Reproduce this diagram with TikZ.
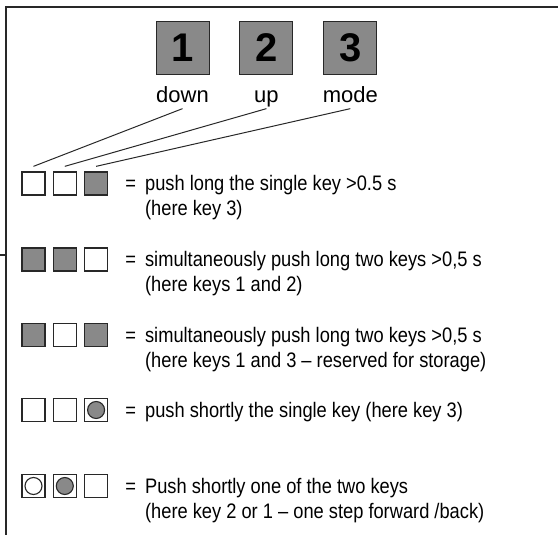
\documentclass[tikz,border=0pt]{standalone}
\usepackage{fontspec}
\setmainfont{Liberation Sans}
\newfontfamily\narrowfont{Liberation Sans}[FakeStretch=0.87]
\usepackage{xcolor}
\usetikzlibrary{positioning, calc}
\definecolor{keygray}{RGB}{137,137,137}
\definecolor{edgegray}{RGB}{40,40,40}
\tikzset{
    bigkey/.style={
        rectangle,
        draw=edgegray,
        line width=0.9pt,
        fill=keygray,
        minimum size=53pt,
        inner sep=0pt,
        font=\fontsize{40}{40}\selectfont\bfseries,
    },
    keyoff/.style={
        rectangle,
        draw=edgegray,
        line width=1.3pt,
        fill=white,
        minimum size=23pt,
        inner sep=0pt,
    },
    keyon/.style={
        keyoff,
        fill=keygray,
    },
    shortpush/.style={
        circle,
        draw=edgegray,
        line width=1.1pt,
        minimum size=17pt,
        inner sep=0pt,
    },
    keylabel/.style={
        inner sep=0pt,
        text height=16pt,
        text depth=5pt,
        font=\fontsize{22}{22}\selectfont,
    },
    desc/.style={
        inner sep=0pt,
        font=\narrowfont\fontsize{21}{25}\selectfont,
    },
}

\begin{document}
\begin{tikzpicture}[x=1pt,y=-1pt]
      \useasboundingbox (0,0) rectangle (558,535);
      \draw [edgegray, line width=1.3pt] (6,535) -- (6,7) -- (558,7);
      \draw [edgegray, line width=1.3pt] (0,255) -- (6,255);

      \node [bigkey] (K1) at (182.5,47.5) {1};
      \node [bigkey] (K2) [right=30pt of K1] {2};
      \node [bigkey] (K3) [right=30pt of K2] {3};
      \node [keylabel] (down) [below=12pt of K1] {down};
      \node [keylabel] (up) [below=12pt of K2] {up};
      \node [keylabel] (mode) [below=12pt of K3] {mode};

      % long push of key 3
      \node [keyoff] (r1a) at (33.5,183.5) {};
      \node [keyoff] (r1b) [right=7pt of r1a] {};
      \node [keyon] (r1c) [right=7pt of r1b] {};
      \node [desc] (t1) [right=17pt of r1c, anchor=base west, yshift=-7pt]
        {=\hspace{9pt}\begin{tabular}[t]{@{}l@{}}push long the single key >0.5 s\\(here key 3)\end{tabular}};

      % keys 1 and 2 together
      \node [keyon] (r2a) at (33.5,259.5) {};
      \node [keyon] (r2b) [right=7pt of r2a] {};
      \node [keyoff] (r2c) [right=7pt of r2b] {};
      \node [desc] (t2) [right=17pt of r2c, anchor=base west, yshift=-7pt]
        {=\hspace{9pt}\begin{tabular}[t]{@{}l@{}}simultaneously push long two keys >0,5 s\\(here keys 1 and 2)\end{tabular}};

      % keys 1 and 3 together
      \node [keyon] (r3a) at (33.5,335) {};
      \node [keyoff] (r3b) [right=7pt of r3a] {};
      \node [keyon] (r3c) [right=7pt of r3b] {};
      \node [desc] (t3) [right=17pt of r3c, anchor=base west, yshift=-7pt]
        {=\hspace{9pt}\begin{tabular}[t]{@{}l@{}}simultaneously push long two keys >0,5 s\\(here keys 1 and 3 – reserved for storage)\end{tabular}};

      % short push of key 3
      \node [keyoff] (r4a) at (33.5,410) {};
      \node [keyoff] (r4b) [right=7pt of r4a] {};
      \node [keyoff] (r4c) [right=7pt of r4b] {};
      \node [shortpush, fill=keygray] (d4c) at (r4c) {};
      \node [desc] (t4) [right=17pt of r4c, anchor=base west, yshift=-7pt]
        {=\hspace{9pt}push shortly the single key (here key 3)};

      % short push of key 2 or 1
      \node [keyoff] (r5a) at (33.5,486) {};
      \node [keyoff] (r5b) [right=7pt of r5a] {};
      \node [keyoff] (r5c) [right=7pt of r5b] {};
      \node [shortpush, fill=white] (d5a) at (r5a) {};
      \node [shortpush, fill=keygray] (d5b) at (r5b) {};
      \node [desc] (t5) [right=17pt of r5c, anchor=base west, yshift=-7pt]
        {=\hspace{9pt}\begin{tabular}[t]{@{}l@{}}Push shortly one of the two keys\\(here key 2 or 1 – one step forward /back)\end{tabular}};

      \draw [edgegray, line width=1pt] ([yshift=-6pt]down.base) -- ([yshift=5pt]r1a.north);
      \draw [edgegray, line width=1pt] ([yshift=-6pt]up.base) -- ([yshift=5pt]r1b.north);
      \draw [edgegray, line width=1pt] ([yshift=-6pt]mode.base) -- ([yshift=5pt]r1c.north);
\end{tikzpicture}
\end{document}
